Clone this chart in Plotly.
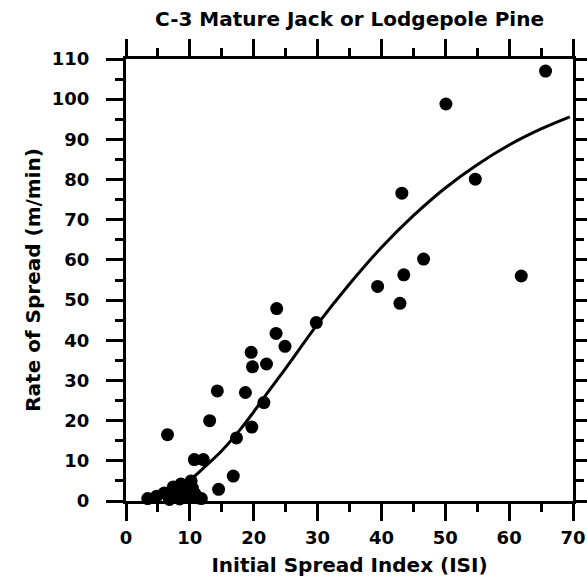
import plotly.graph_objects as go

# observed fires (ISI, ROS m/min)
isi_obs = [65.7, 50.1, 54.7, 43.2, 46.6, 43.5, 61.9, 39.4, 42.9, 29.8,
           23.6, 23.5, 24.9, 19.6, 19.8, 22.0, 14.3, 18.7, 21.6, 13.1,
           19.7, 6.5, 17.3, 10.7, 12.1, 16.8, 14.5,
           3.4, 4.8, 6.0, 7.0, 7.4, 8.0, 8.6, 9.0, 9.6, 10.2, 10.4, 10.8,
           11.2, 8.4, 11.8, 10.0, 6.8, 9.8]
ros_obs = [107.0, 98.8, 80.1, 76.6, 60.2, 56.3, 56.0, 53.4, 49.2, 44.4,
           47.9, 41.7, 38.5, 37.0, 33.4, 34.1, 27.4, 27.0, 24.5, 20.0,
           18.4, 16.5, 15.7, 10.3, 10.3, 6.2, 2.9,
           0.6, 1.2, 2.0, 1.0, 3.5, 2.2, 4.2, 1.2, 2.6, 5.0, 3.2, 1.8,
           0.8, 0.5, 0.6, 0.9, 0.4, 4.0]

# fitted curve
isi_fit = [3, 5, 8, 10, 12, 15, 18, 20, 22, 25, 30, 35, 40, 45, 50, 55, 60, 65, 69.5]
ros_fit = [0.2, 0.9, 3.0, 5.2, 8.0, 12.5, 18.0, 22.2, 26.6, 33.0, 44.0, 54.0,
           63.1, 71.0, 77.9, 83.7, 88.6, 92.6, 95.6]

FONT = "DejaVu Sans"
title_font = dict(family=FONT, size=20, color="black", weight="bold")

fig = go.Figure()
fig.add_trace(go.Scatter(
    x=isi_fit, y=ros_fit, mode="lines", line_shape="spline",
    line=dict(color="black", width=3), hoverinfo="skip",
))
fig.add_trace(go.Scatter(
    x=isi_obs, y=ros_obs, mode="markers", cliponaxis=False,
    marker=dict(color="black", size=13),
))

axis_common = dict(
    showgrid=False, zeroline=False, showline=True, linecolor="black", linewidth=3,
    mirror="allticks", ticks="outside", ticklen=17, tickwidth=2.5, tickcolor="black",
    minor=dict(dtick=5, ticks="outside", ticklen=8, tickwidth=2.5, tickcolor="black"),
    tickfont=dict(family=FONT, size=18, color="black", weight="bold"),
    automargin=False,
)

fig.update_xaxes(range=[0, 70], dtick=10, ticklabelstandoff=1, **axis_common,
                 title=dict(text="Initial Spread Index (ISI)", standoff=12, font=title_font))
fig.update_yaxes(range=[0, 110], dtick=10, ticklabelstandoff=13, **axis_common,
                 title=dict(text="Rate of Spread (m/min)", standoff=6, font=title_font))

fig.update_layout(
    width=587, height=582,
    showlegend=False,
    plot_bgcolor="white", paper_bgcolor="white",
    margin=dict(l=126, r=14, t=59, b=81, autoexpand=False),
    title=dict(text="C-3 Mature Jack or Lodgepole Pine", xref="paper", x=0.5,
               xanchor="center", y=0.967, yanchor="middle", font=title_font),
)

# drop the page's default body margin so the figure fills the window exactly
fig.write_html(
    "out.html",
    config={"displayModeBar": False},
    post_script="document.body.style.margin='0';document.body.style.overflow='hidden';",
)
